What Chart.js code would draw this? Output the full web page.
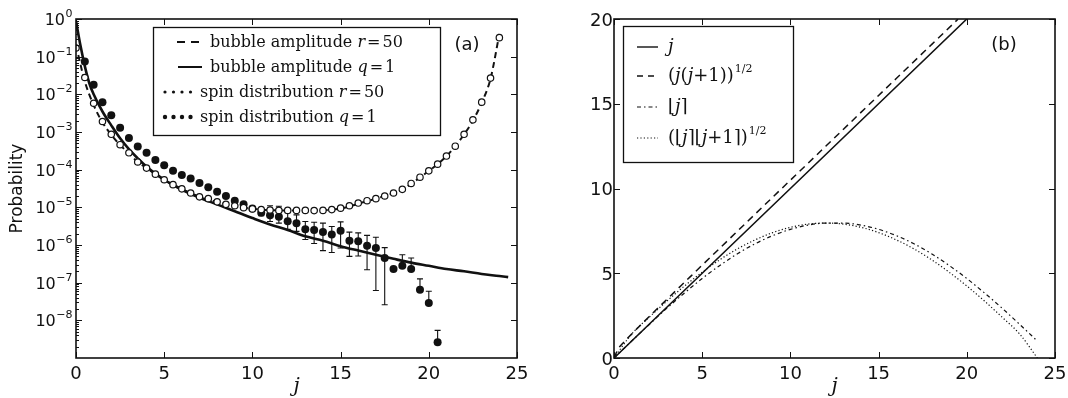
<!DOCTYPE html>
<html>
<head>
<meta charset="utf-8">
<title>Spin distribution and q-numbers</title>
<script src="https://cdn.jsdelivr.net/npm/chart.js@4.4.1/dist/chart.umd.min.js"></script>
<style>
  html, body { margin: 0; padding: 0; background: #fff; }
  #wrap { position: relative; width: 1068px; height: 398px; overflow: hidden; }
  canvas { position: absolute; top: 0; }
  #ca { left: 0; }
  #cb { left: 534px; }
</style>
</head>
<body>
<div id="wrap">
  <canvas id="ca" width="534" height="398"></canvas>
  <canvas id="cb" width="534" height="398"></canvas>
</div>
<script>
// ---------- panel (a): probability against j (log axis) ----------
const jHalf = [0,0.5,1,1.5,2,2.5,3,3.5,4,4.5,5,5.5,6,6.5,7,7.5,8,8.5,9,9.5,10,10.5,11,11.5,12,
               12.5,13,13.5,14,14.5,15,15.5,16,16.5,17,17.5,18,18.5,19,19.5,20,20.5,21,21.5,22,22.5,23,23.5,24];
// spin distribution, r = 50 (open circles)
const spinR50 = [1.7e-1,2.8e-2,5.8e-3,1.9e-3,8.7e-4,4.6e-4,2.8e-4,1.6e-4,1.1e-4,7.6e-5,5.4e-5,4.0e-5,3.1e-5,
                 2.4e-5,1.9e-5,1.7e-5,1.4e-5,1.2e-5,1.1e-5,9.8e-6,9.1e-6,8.7e-6,8.5e-6,8.3e-6,8.3e-6,8.3e-6,
                 8.3e-6,8.2e-6,8.3e-6,8.7e-6,9.5e-6,1.1e-5,1.3e-5,1.5e-5,1.7e-5,2.0e-5,2.4e-5,3.0e-5,4.3e-5,
                 6.3e-5,9.3e-5,1.4e-4,2.3e-4,4.2e-4,8.7e-4,2.1e-3,6.2e-3,2.7e-2,3.2e-1];
// bubble amplitude, r = 50 (dashed curve)
const bubbleR50 = [2.0e-1,2.2e-2,5.2e-3,1.8e-3,8.4e-4,4.5e-4,2.7e-4,1.6e-4,1.1e-4,7.6e-5,5.4e-5,4.0e-5,3.1e-5,
                   2.4e-5,1.9e-5,1.6e-5,1.4e-5,1.2e-5,1.1e-5,9.8e-6,9.1e-6,8.7e-6,8.4e-6,8.3e-6,8.2e-6,8.2e-6,
                   8.3e-6,8.3e-6,8.4e-6,8.7e-6,9.3e-6,1.05e-5,1.25e-5,1.45e-5,1.7e-5,2.0e-5,2.4e-5,3.0e-5,4.2e-5,
                   6.2e-5,9.2e-5,1.4e-4,2.3e-4,4.2e-4,8.6e-4,2.0e-3,6.0e-3,2.6e-2,4.0e-1];
// spin distribution, q = 1 (filled circles)
const jSpinQ1 = [0.5,1,1.5,2,2.5,3,3.5,4,4.5,5,5.5,6,6.5,7,7.5,8,8.5,9,9.5,10,10.5,11,11.5,12,12.5,
                 13,13.5,14,14.5,15,15.5,16,16.5,17,17.5,18,18.5,19,19.5,20,20.5];
const spinQ1 = [7.4e-2,1.8e-2,6.2e-3,2.8e-3,1.3e-3,6.9e-4,4.1e-4,2.8e-4,1.8e-4,1.3e-4,9.3e-5,7.2e-5,5.8e-5,
                4.4e-5,3.4e-5,2.6e-5,2.0e-5,1.5e-5,1.2e-5,9.3e-6,7.2e-6,6.2e-6,5.6e-6,4.3e-6,3.8e-6,2.6e-6,
                2.5e-6,2.2e-6,1.9e-6,2.4e-6,1.3e-6,1.26e-6,9.5e-7,8.3e-7,4.5e-7,2.3e-7,2.8e-7,2.3e-7,6.5e-8,
                2.9e-8,2.6e-9];
// error bars on the q = 1 spin distribution (null: no lower whisker)
const jErr  = [10.5,11,11.5,12,12.5,13,13.5,14,14.5,15,15.5,16,16.5,17,17.5,18.5,19,19.5,20,20.5];
const errHi = [8.7e-6,1.1e-5,1.07e-5,7.2e-6,6.3e-6,4.2e-6,4.0e-6,3.8e-6,3.1e-6,4.1e-6,2.2e-6,2.1e-6,1.8e-6,
               1.6e-6,8.5e-7,5.5e-7,4.5e-7,1.26e-7,5.9e-8,5.4e-9];
const errLo = [6.0e-6,4.2e-6,3.8e-6,2.6e-6,2.3e-6,1.4e-6,1.1e-6,7.1e-7,6.3e-7,8.3e-7,5.0e-7,5.1e-7,2.2e-7,
               6.2e-8,2.6e-8,null,null,null,null,null];
// bubble amplitude, q = 1 (solid curve)
const jBubbleQ1 = [0,0.25,0.5,0.75,1,1.5,2,2.5,3,3.5,4,5,6,7,8,9,10,11,12,13,14,15,16,17,18,19,20,21,22,23,24,24.5];
const bubbleQ1 = [0.89,0.20,5.6e-2,2.0e-2,1.0e-2,3.5e-3,1.5e-3,6.8e-4,3.5e-4,2.0e-4,1.2e-4,5.4e-5,2.9e-5,1.8e-5,
                  1.2e-5,7.9e-6,5.2e-6,3.5e-6,2.5e-6,1.7e-6,1.3e-6,9.3e-7,7.1e-7,5.5e-7,4.3e-7,3.4e-7,2.8e-7,
                  2.3e-7,2.0e-7,1.7e-7,1.5e-7,1.4e-7];
// axis ticks
const xTicks = [0,5,10,15,20,25];
const decadeTicks = [1,1e-1,1e-2,1e-3,1e-4,1e-5,1e-6,1e-7,1e-8];
const decadeExp = ['0','\u22121','\u22122','\u22123','\u22124','\u22125','\u22126','\u22127','\u22128'];
const minorMult = [2,3,4,5,6,7,8,9];

// ---------- panel (b): j and its q-deformed versions ----------
const jLine = [0,5,10,15,20];
const valJ = [0,5,10,15,20];
const jRoot = [0,0.25,0.5,1,2,3,4,5,6,8,10,12,14,16,18,19.5];
const valRoot = [0,0.56,0.87,1.41,2.45,3.46,4.47,5.48,6.48,8.49,10.49,12.49,14.49,16.49,18.49,19.99];
const jInt = [0,1,2,3,4,5,6,7,8,9,10,11,12,13,14,15,16,17,18,19,20,21,22,23,24];
const valQ = [0,1.00,1.98,2.94,3.84,4.69,5.46,6.15,6.74,7.22,7.59,7.84,7.96,7.96,7.84,7.59,7.22,6.74,6.15,
              5.46,4.69,3.84,2.94,1.98,1.00];
const valQRoot = [0,1.41,2.41,3.36,4.25,5.06,5.80,6.44,6.97,7.40,7.71,7.90,7.96,7.90,7.71,7.40,6.97,6.44,5.80,
                  5.06,4.25,3.36,2.41,1.41,0];
const yTicksB = [0,5,10,15,20];

// ---------- drawing helpers ----------
const SANS = '"DejaVu Sans", sans-serif';
const SERIF = '"DejaVu Serif", serif';
const INK = '#111';
const pts = (xs, ys) => xs.map((x, i) => ({ x, y: ys[i] }));

function drawFrame(chart, xMajor, yMajor, yMinor) {
  const { ctx, chartArea: a, scales: { x, y } } = chart;
  ctx.save();
  ctx.strokeStyle = INK;
  ctx.lineWidth = 1;
  ctx.beginPath();
  xMajor.forEach(v => {
    const px = Math.round(x.getPixelForValue(v)) + 0.5;
    ctx.moveTo(px, a.bottom); ctx.lineTo(px, a.bottom - 6);
    ctx.moveTo(px, a.top); ctx.lineTo(px, a.top + 6);
  });
  yMajor.forEach(v => {
    const py = Math.round(y.getPixelForValue(v)) + 0.5;
    ctx.moveTo(a.left, py); ctx.lineTo(a.left + 6, py);
    ctx.moveTo(a.right, py); ctx.lineTo(a.right - 6, py);
  });
  yMinor.forEach(v => {
    const py = Math.round(y.getPixelForValue(v)) + 0.5;
    ctx.moveTo(a.left, py); ctx.lineTo(a.left + 3, py);
  });
  ctx.stroke();
  ctx.lineWidth = 1.6;
  ctx.strokeRect(a.left, a.top, a.right - a.left, a.bottom - a.top);
  ctx.restore();
}

function drawXLabels(chart, values) {
  const { ctx, chartArea: a, scales: { x } } = chart;
  ctx.save();
  ctx.fillStyle = INK;
  ctx.font = '18px ' + SANS;
  ctx.textAlign = 'center';
  ctx.textBaseline = 'alphabetic';
  values.forEach(v => ctx.fillText(String(v), x.getPixelForValue(v), a.bottom + 21));
  ctx.restore();
}

function drawRuns(ctx, x, y, runs) {
  let cx = x;
  runs.forEach(r => {
    ctx.font = r.font;
    cx += r.pre || 0;
    ctx.fillText(r.t, cx, y + (r.dy || 0));
    cx += ctx.measureText(r.t).width;
  });
  return cx;
}

function hLine(ctx, x0, x1, y, width, dash) {
  ctx.save();
  ctx.lineWidth = width;
  ctx.setLineDash(dash || []);
  ctx.beginPath(); ctx.moveTo(x0, y); ctx.lineTo(x1, y); ctx.stroke();
  ctx.restore();
}

function dots(ctx, xs, y, r) {
  xs.forEach(x => { ctx.beginPath(); ctx.arc(x, y, r, 0, Math.PI * 2); ctx.fill(); });
}

// ---------- panel (a) decorations ----------
const decorA = {
  id: 'decorA',
  beforeDatasetsDraw(chart) {
    const { ctx, scales: { x, y } } = chart;
    ctx.save();
    ctx.strokeStyle = INK;
    ctx.lineWidth = 1.1;
    jErr.forEach((j, i) => {
      const px = x.getPixelForValue(j);
      const pc = y.getPixelForValue(spinQ1[jSpinQ1.indexOf(j)]);
      const hi = y.getPixelForValue(errHi[i]);
      const lo = errLo[i] == null ? pc : y.getPixelForValue(errLo[i]);
      ctx.beginPath();
      ctx.moveTo(px, hi); ctx.lineTo(px, lo);
      ctx.moveTo(px - 3, hi); ctx.lineTo(px + 3, hi);
      if (errLo[i] != null) { ctx.moveTo(px - 3, lo); ctx.lineTo(px + 3, lo); }
      ctx.stroke();
    });
    ctx.restore();
  },
  afterDraw(chart) {
    const { ctx, chartArea: a, scales: { y } } = chart;
    const minor = [];
    decadeTicks.concat([1e-9]).forEach(d => minorMult.forEach(m => { if (d * m < 1) minor.push(d * m); }));
    drawFrame(chart, xTicks, decadeTicks, minor);
    drawXLabels(chart, xTicks);

    ctx.save();
    ctx.fillStyle = INK;
    ctx.textBaseline = 'alphabetic';
    // powers of ten on the vertical axis
    decadeTicks.forEach((v, i) => {
      const py = y.getPixelForValue(v);
      ctx.font = '16px ' + SANS;
      const wBase = ctx.measureText('10').width;
      ctx.font = '11px ' + SANS;
      const wSup = ctx.measureText(decadeExp[i]).width;
      const x0 = a.left - 4 - wSup - wBase;
      ctx.font = '16px ' + SANS;
      ctx.fillText('10', x0, py + 6);
      ctx.font = '11px ' + SANS;
      ctx.fillText(decadeExp[i], x0 + wBase + 0.5, py - 2);
    });

    // axis titles
    ctx.save();
    ctx.translate(18, (a.top + a.bottom) / 2);
    ctx.rotate(-Math.PI / 2);
    ctx.font = '17px ' + SANS;
    ctx.textAlign = 'center';
    ctx.textBaseline = 'middle';
    ctx.fillText('Probability', 0, 0);
    ctx.restore();
    ctx.font = 'italic 20px ' + SERIF;
    ctx.textAlign = 'center';
    ctx.fillText('j', (a.left + a.right) / 2, a.bottom + 34);

    // panel tag
    ctx.font = '18px ' + SANS;
    ctx.textAlign = 'center';
    ctx.textBaseline = 'middle';
    ctx.fillText('(a)', 467, 45);

    // legend
    ctx.fillStyle = '#fff';
    ctx.fillRect(153, 27, 287, 108);
    ctx.strokeStyle = INK;
    ctx.lineWidth = 1.3;
    ctx.strokeRect(153.5, 27.5, 287, 108);
    ctx.fillStyle = INK;
    ctx.textAlign = 'left';
    ctx.textBaseline = 'alphabetic';
    const rm = '16px ' + SERIF, it = 'italic 16px ' + SERIF;
    hLine(ctx, 177, 200, 42, 1.8, [8, 6]);
    drawRuns(ctx, 210, 47, [{ t: 'bubble amplitude ', font: rm }, { t: 'r', font: it }, { t: '=', font: rm, pre: 2 }, { t: '50', font: rm, pre: 2 }]);
    hLine(ctx, 178, 202, 67, 2);
    drawRuns(ctx, 210, 72, [{ t: 'bubble amplitude ', font: rm }, { t: 'q', font: it }, { t: '=', font: rm, pre: 2 }, { t: '1', font: rm, pre: 2 }]);
    dots(ctx, [165, 173.5, 182, 190.5], 92, 1.6);
    drawRuns(ctx, 200, 97, [{ t: 'spin distribution ', font: rm }, { t: 'r', font: it }, { t: '=', font: rm, pre: 2 }, { t: '50', font: rm, pre: 2 }]);
    dots(ctx, [165, 173.5, 182, 190.5], 117, 2.2);
    drawRuns(ctx, 200, 122, [{ t: 'spin distribution ', font: rm }, { t: 'q', font: it }, { t: '=', font: rm, pre: 2 }, { t: '1', font: rm, pre: 2 }]);
    ctx.restore();
  }
};

// ---------- panel (b) decorations ----------
const decorB = {
  id: 'decorB',
  afterDraw(chart) {
    const { ctx, chartArea: a, scales: { y } } = chart;
    drawFrame(chart, xTicks, yTicksB, []);
    drawXLabels(chart, xTicks);
    ctx.save();
    ctx.fillStyle = INK;
    ctx.font = '18px ' + SANS;
    ctx.textAlign = 'right';
    ctx.textBaseline = 'alphabetic';
    yTicksB.forEach(v => ctx.fillText(String(v), a.left - 1, y.getPixelForValue(v) + 6.5));

    ctx.font = 'italic 20px ' + SERIF;
    ctx.textAlign = 'center';
    ctx.fillText('j', (a.left + a.right) / 2, a.bottom + 34);

    ctx.font = '18px ' + SANS;
    ctx.textBaseline = 'middle';
    ctx.fillText('(b)', 470, 45);

    // legend
    ctx.fillStyle = '#fff';
    ctx.fillRect(89, 26, 170, 136);
    ctx.strokeStyle = INK;
    ctx.lineWidth = 1.3;
    ctx.strokeRect(89.5, 26.5, 170, 136);
    ctx.fillStyle = INK;
    ctx.textAlign = 'left';
    ctx.textBaseline = 'alphabetic';
    const rm = '18px ' + SERIF, it = 'italic 18px ' + SERIF, sup = '11px ' + SERIF;
    hLine(ctx, 103, 124, 47, 1.4);
    drawRuns(ctx, 134, 52, [{ t: 'j', font: it }]);
    hLine(ctx, 103, 124, 76, 1.3, [6, 5]);
    drawRuns(ctx, 134, 81, [{ t: '(', font: rm }, { t: 'j', font: it }, { t: '(', font: rm }, { t: 'j', font: it },
      { t: '+1))', font: rm }, { t: '1/2', font: sup, dy: -9, pre: 1 }]);
    hLine(ctx, 103, 124, 107, 1.1, [4, 3, 1.5, 3]);
    drawRuns(ctx, 134, 112, [{ t: '\u230A', font: rm }, { t: 'j', font: it }, { t: '\u2309', font: rm }]);
    hLine(ctx, 103, 124, 138, 1.1, [1.2, 2.2]);
    drawRuns(ctx, 134, 143, [{ t: '(\u230A', font: rm }, { t: 'j', font: it }, { t: '\u2309\u230A', font: rm },
      { t: 'j', font: it }, { t: '+1\u2309)', font: rm }, { t: '1/2', font: sup, dy: -9, pre: 1 }]);
    ctx.restore();
  }
};

const common = {
  responsive: false,
  animation: false,
  events: [],
  plugins: { legend: { display: false }, tooltip: { enabled: false } },
  elements: { line: { borderColor: INK, fill: false }, point: { radius: 0 } }
};

new Chart(document.getElementById('ca'), {
  type: 'scatter',
  data: {
    datasets: [
      { label: 'spin distribution r=50', data: pts(jHalf, spinR50), showLine: false, order: 0,
        pointRadius: 3.2, pointBackgroundColor: '#fff', pointBorderColor: INK, pointBorderWidth: 1.2 },
      { label: 'spin distribution q=1', data: pts(jSpinQ1, spinQ1), showLine: false, order: 0,
        pointRadius: 4, pointBackgroundColor: INK, pointBorderColor: INK, pointBorderWidth: 0 },
      { label: 'bubble amplitude r=50', data: pts(jHalf, bubbleR50), showLine: true, order: 1,
        borderColor: INK, borderWidth: 2, borderDash: [6, 4], pointRadius: 0, cubicInterpolationMode: 'monotone' },
      { label: 'bubble amplitude q=1', data: pts(jBubbleQ1, bubbleQ1), showLine: true, order: 1,
        borderColor: INK, borderWidth: 2.6, pointRadius: 0, cubicInterpolationMode: 'monotone' }
    ]
  },
  options: Object.assign({}, common, {
    layout: { padding: { left: 76, top: 19, right: 17, bottom: 40 } },
    scales: {
      x: { type: 'linear', display: false, min: 0, max: 25 },
      y: { type: 'logarithmic', display: false, min: 1e-9, max: 1 }
    }
  }),
  plugins: [decorA]
});

new Chart(document.getElementById('cb'), {
  type: 'scatter',
  data: {
    datasets: [
      { label: 'j', data: pts(jLine, valJ), showLine: true, borderColor: INK, borderWidth: 1.6, pointRadius: 0 },
      { label: '(j(j+1))^1/2', data: pts(jRoot, valRoot), showLine: true, borderColor: INK, borderWidth: 1.5,
        borderDash: [7, 5], pointRadius: 0, cubicInterpolationMode: 'monotone' },
      { label: '[j]', data: pts(jInt, valQ), showLine: true, borderColor: INK, borderWidth: 1.2,
        borderDash: [4, 3, 1.5, 3], pointRadius: 0, cubicInterpolationMode: 'monotone' },
      { label: '([j][j+1])^1/2', data: pts(jInt, valQRoot), showLine: true, borderColor: INK, borderWidth: 1.2,
        borderDash: [1.2, 2.2], pointRadius: 0, cubicInterpolationMode: 'monotone' }
    ]
  },
  options: Object.assign({}, common, {
    layout: { padding: { left: 80, top: 19, right: 13, bottom: 40 } },
    scales: {
      x: { type: 'linear', display: false, min: 0, max: 25 },
      y: { type: 'linear', display: false, min: 0, max: 20 }
    }
  }),
  plugins: [decorB]
});
</script>
</body>
</html>
